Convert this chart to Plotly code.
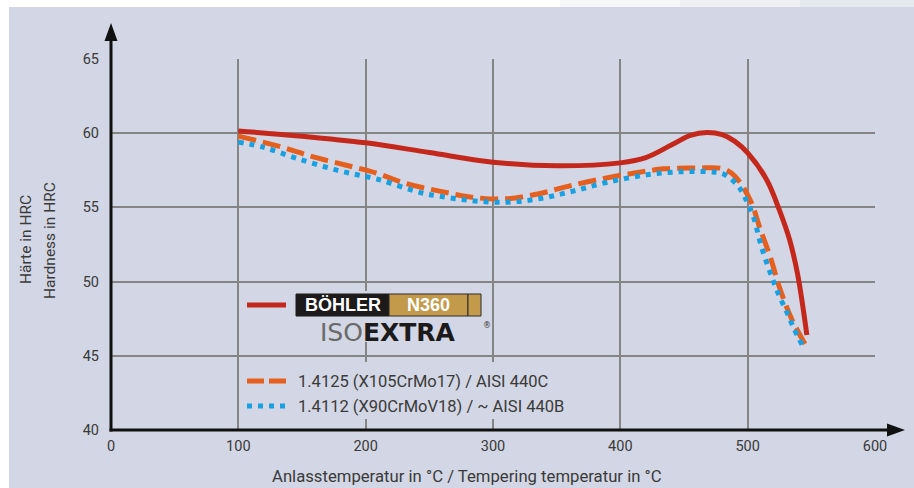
import plotly.graph_objects as go

# ---------------- data ----------------
x_ticks = [0, 100, 200, 300, 400, 500, 600]
y_ticks = [40, 45, 50, 55, 60, 65]

n360_temp = [100, 150, 200, 250, 300, 350, 400, 420, 440, 455, 468, 480, 490, 500, 515, 525, 533, 539, 542.5, 546.5]
n360_hrc = [60.15, 59.8, 59.35, 58.7, 58.05, 57.8, 58.0, 58.35, 59.2, 59.85, 60.05, 59.9, 59.45, 58.67, 56.85, 54.8, 52.8, 50.6, 48.8, 46.4]

s4125_temp = [100, 134, 159, 184, 209, 232, 258, 282, 308, 335, 358, 384, 410, 434, 460, 481, 490, 502, 510, 518, 525, 535, 545]
s4125_hrc = [59.8, 59.07, 58.4, 57.86, 57.3, 56.6, 56.1, 55.7, 55.57, 55.9, 56.4, 56.9, 57.3, 57.6, 57.65, 57.6, 57.1, 55.5, 53.5, 51.6, 49.6, 47.4, 45.8]

s4112_temp = [100, 120, 146, 178, 209, 243, 258, 284, 311, 337, 363, 390, 421, 447, 470, 481, 492, 497, 504, 511, 519, 525, 531, 536, 543]
s4112_hrc = [59.4, 59.05, 58.3, 57.5, 56.9, 56.0, 55.75, 55.45, 55.35, 55.6, 56.1, 56.7, 57.2, 57.4, 57.4, 57.25, 56.5, 55.8, 54.5, 52.3, 50.3, 49.0, 47.9, 46.9, 45.7]

label_4125 = "1.4125 (X105CrMo17) / AISI 440C"
label_4112 = "1.4112 (X90CrMoV18) / ~ AISI 440B"
x_title = "Anlasstemperatur in °C / Tempering temperatur in °C"
y_title_de = "Härte in HRC"
y_title_en = "Hardness in HRC"

# ---------------- style ----------------
BG = "#d3d6e4"
GRID = "#858585"
RED = "#c4281c"
ORANGE = "#e5601e"
BLUE = "#18a0e0"
TXT = "#3a3a3a"
FONT = "Roboto, sans-serif"

W_FIG, H_FIG = 914, 488
L, R, T, B = 111, 875, 59, 430
PW, PH = R - L, B - T


def px(xp):
    return (xp - L) / PW


def py(yp):
    return (B - yp) / PH


def dx(xp):
    return (xp - L) / PW * 600


def dy(yp):
    return 40 + (B - yp) / PH * 25


fig = go.Figure()
fig.add_trace(go.Scatter(x=n360_temp, y=n360_hrc, mode="lines", name="BÖHLER N360 ISOEXTRA",
                         line=dict(color=RED, width=5, shape="spline"), showlegend=False))
fig.add_trace(go.Scatter(x=s4125_temp, y=s4125_hrc, mode="lines", name=label_4125,
                         line=dict(color=ORANGE, width=5, shape="spline", dash="18px,7px"), showlegend=False))
fig.add_trace(go.Scatter(x=s4112_temp, y=s4112_hrc, mode="lines", name=label_4112,
                         line=dict(color=BLUE, width=5, shape="spline", dash="5px,6px"), showlegend=False))

shapes = []
# background panel
shapes.append(dict(type="rect", xref="paper", yref="paper", x0=px(9), x1=px(914), y0=py(488), y1=py(7),
                   fillcolor=BG, line=dict(width=0), layer="below"))
# faint gradient in the top strip at right
for xa, col in [(560, "#f6f7f9"), (680, "#eef0f4"), (800, "#e6e9ef")]:
    shapes.append(dict(type="rect", xref="paper", yref="paper", x0=px(xa), x1=px(914), y0=py(7), y1=py(0),
                       fillcolor=col, line=dict(width=0), layer="below"))
# legend backgrounds hiding grid lines
shapes.append(dict(type="rect", xref="x", yref="y", x0=dx(292), x1=dx(490), y0=dy(342), y1=dy(291),
                   fillcolor=BG, line=dict(width=0), layer="between"))
shapes.append(dict(type="rect", xref="x", yref="y", x0=dx(245), x1=dx(580), y0=dy(419), y1=dy(362),
                   fillcolor=BG, line=dict(width=0), layer="between"))
# legend samples
shapes.append(dict(type="line", xref="paper", yref="paper", x0=px(247), x1=px(286), y0=py(305), y1=py(305),
                   line=dict(color=RED, width=5)))
shapes.append(dict(type="line", xref="paper", yref="paper", x0=px(247), x1=px(286), y0=py(381), y1=py(381),
                   line=dict(color=ORANGE, width=5, dash="17px,5px")))
shapes.append(dict(type="line", xref="paper", yref="paper", x0=px(247), x1=px(286), y0=py(406), y1=py(406),
                   line=dict(color=BLUE, width=5, dash="5px,6px")))
# logo boxes
shapes.append(dict(type="rect", xref="paper", yref="paper", x0=px(296), x1=px(389), y0=py(316), y1=py(294),
                   fillcolor="#1c1a1a", line=dict(color="#1c1a1a", width=1)))
shapes.append(dict(type="rect", xref="paper", yref="paper", x0=px(389), x1=px(468), y0=py(316), y1=py(294),
                   fillcolor="#c39a4c", line=dict(color="#2a2a2a", width=1)))
shapes.append(dict(type="rect", xref="paper", yref="paper", x0=px(468), x1=px(481), y0=py(316), y1=py(294),
                   fillcolor="#c39a4c", line=dict(color="#2a2a2a", width=1)))
# axes with arrows
shapes.append(dict(type="line", xref="paper", yref="paper", x0=px(111), x1=px(111), y0=py(431.5), y1=py(40),
                   line=dict(color="#111111", width=3)))
shapes.append(dict(type="line", xref="paper", yref="paper", x0=px(109.5), x1=px(888), y0=py(430), y1=py(430),
                   line=dict(color="#111111", width=3)))
shapes.append(dict(type="path", xref="paper", yref="paper",
                   path=f"M {px(104.5)},{py(41)} L {px(117.5)},{py(41)} L {px(111)},{py(23)} Z",
                   fillcolor="#111111", line=dict(width=0)))
shapes.append(dict(type="path", xref="paper", yref="paper",
                   path=f"M {px(887)},{py(423.5)} L {px(887)},{py(436.5)} L {px(905)},{py(430)} Z",
                   fillcolor="#111111", line=dict(width=0)))

annotations = [
    dict(text=y_title_de, x=px(26), y=py(240), xref="paper", yref="paper", showarrow=False, textangle=-90,
         font=dict(family=FONT, size=15.5, color=TXT), xanchor="center", yanchor="middle"),
    dict(text=y_title_en, x=px(50), y=py(241), xref="paper", yref="paper", showarrow=False, textangle=-90,
         font=dict(family=FONT, size=15.5, color=TXT), xanchor="center", yanchor="middle"),
    dict(text=x_title, x=px(466.5), y=py(476), xref="paper", yref="paper", showarrow=False,
         font=dict(family=FONT, size=16.7, color=TXT), xanchor="center", yanchor="middle"),
    dict(text=label_4125, x=px(296), y=py(381), xref="paper", yref="paper", showarrow=False,
         font=dict(family=FONT, size=16.5, color=TXT), xanchor="left", yanchor="middle"),
    dict(text=label_4112, x=px(296), y=py(406), xref="paper", yref="paper", showarrow=False,
         font=dict(family=FONT, size=16.5, color=TXT), xanchor="left", yanchor="middle"),
    dict(text="<b>BÖHLER</b>", x=px(343), y=py(305.3), xref="paper", yref="paper", showarrow=False,
         borderpad=0, font=dict(family="Liberation Sans, Arial, sans-serif", size=18, color="white"),
         xanchor="center", yanchor="middle"),
    dict(text="<b>N360</b>", x=px(428), y=py(305.3), xref="paper", yref="paper", showarrow=False,
         borderpad=0, font=dict(family="Liberation Sans, Arial, sans-serif", size=18, color="white"),
         xanchor="center", yanchor="middle"),
    dict(text="<span style='color:#6a6a6a'>ISO</span><b>EXTRA</b>", x=px(388), y=py(332.5), xref="paper",
         yref="paper", showarrow=False, borderpad=0,
         font=dict(family="DejaVu Sans, sans-serif", size=25, color="#1c1a1a"),
         xanchor="center", yanchor="middle"),
    dict(text="®", x=px(487), y=py(325), xref="paper", yref="paper", showarrow=False, borderpad=0,
         font=dict(family="DejaVu Sans, sans-serif", size=8, color="#333333"),
         xanchor="center", yanchor="middle"),
]

fig.update_layout(
    width=W_FIG, height=H_FIG,
    margin=dict(l=L, r=W_FIG - R, t=T, b=H_FIG - B, pad=0),
    paper_bgcolor="white", plot_bgcolor=BG,
    showlegend=False,
    shapes=shapes, annotations=annotations,
    font=dict(family=FONT, size=14, color=TXT),
)
fig.update_xaxes(range=[0, 600], tickvals=x_ticks, ticktext=[str(v) for v in x_ticks],
                 showgrid=True, gridcolor=GRID, gridwidth=1.5, zeroline=False, showline=False,
                 ticks="", ticklabelstandoff=5, tickfont=dict(family=FONT, size=14.5, color=TXT))
fig.update_yaxes(range=[40, 65], tickvals=y_ticks, ticktext=[str(v) for v in y_ticks],
                 showgrid=True, gridcolor=GRID, gridwidth=1.5, zeroline=False, showline=False,
                 ticks="", ticklabelstandoff=11, tickfont=dict(family=FONT, size=14.5, color=TXT))

fig.write_html("out.html", config={"displayModeBar": False},
               post_script="document.body.style.margin='0';document.body.style.padding='0';")
